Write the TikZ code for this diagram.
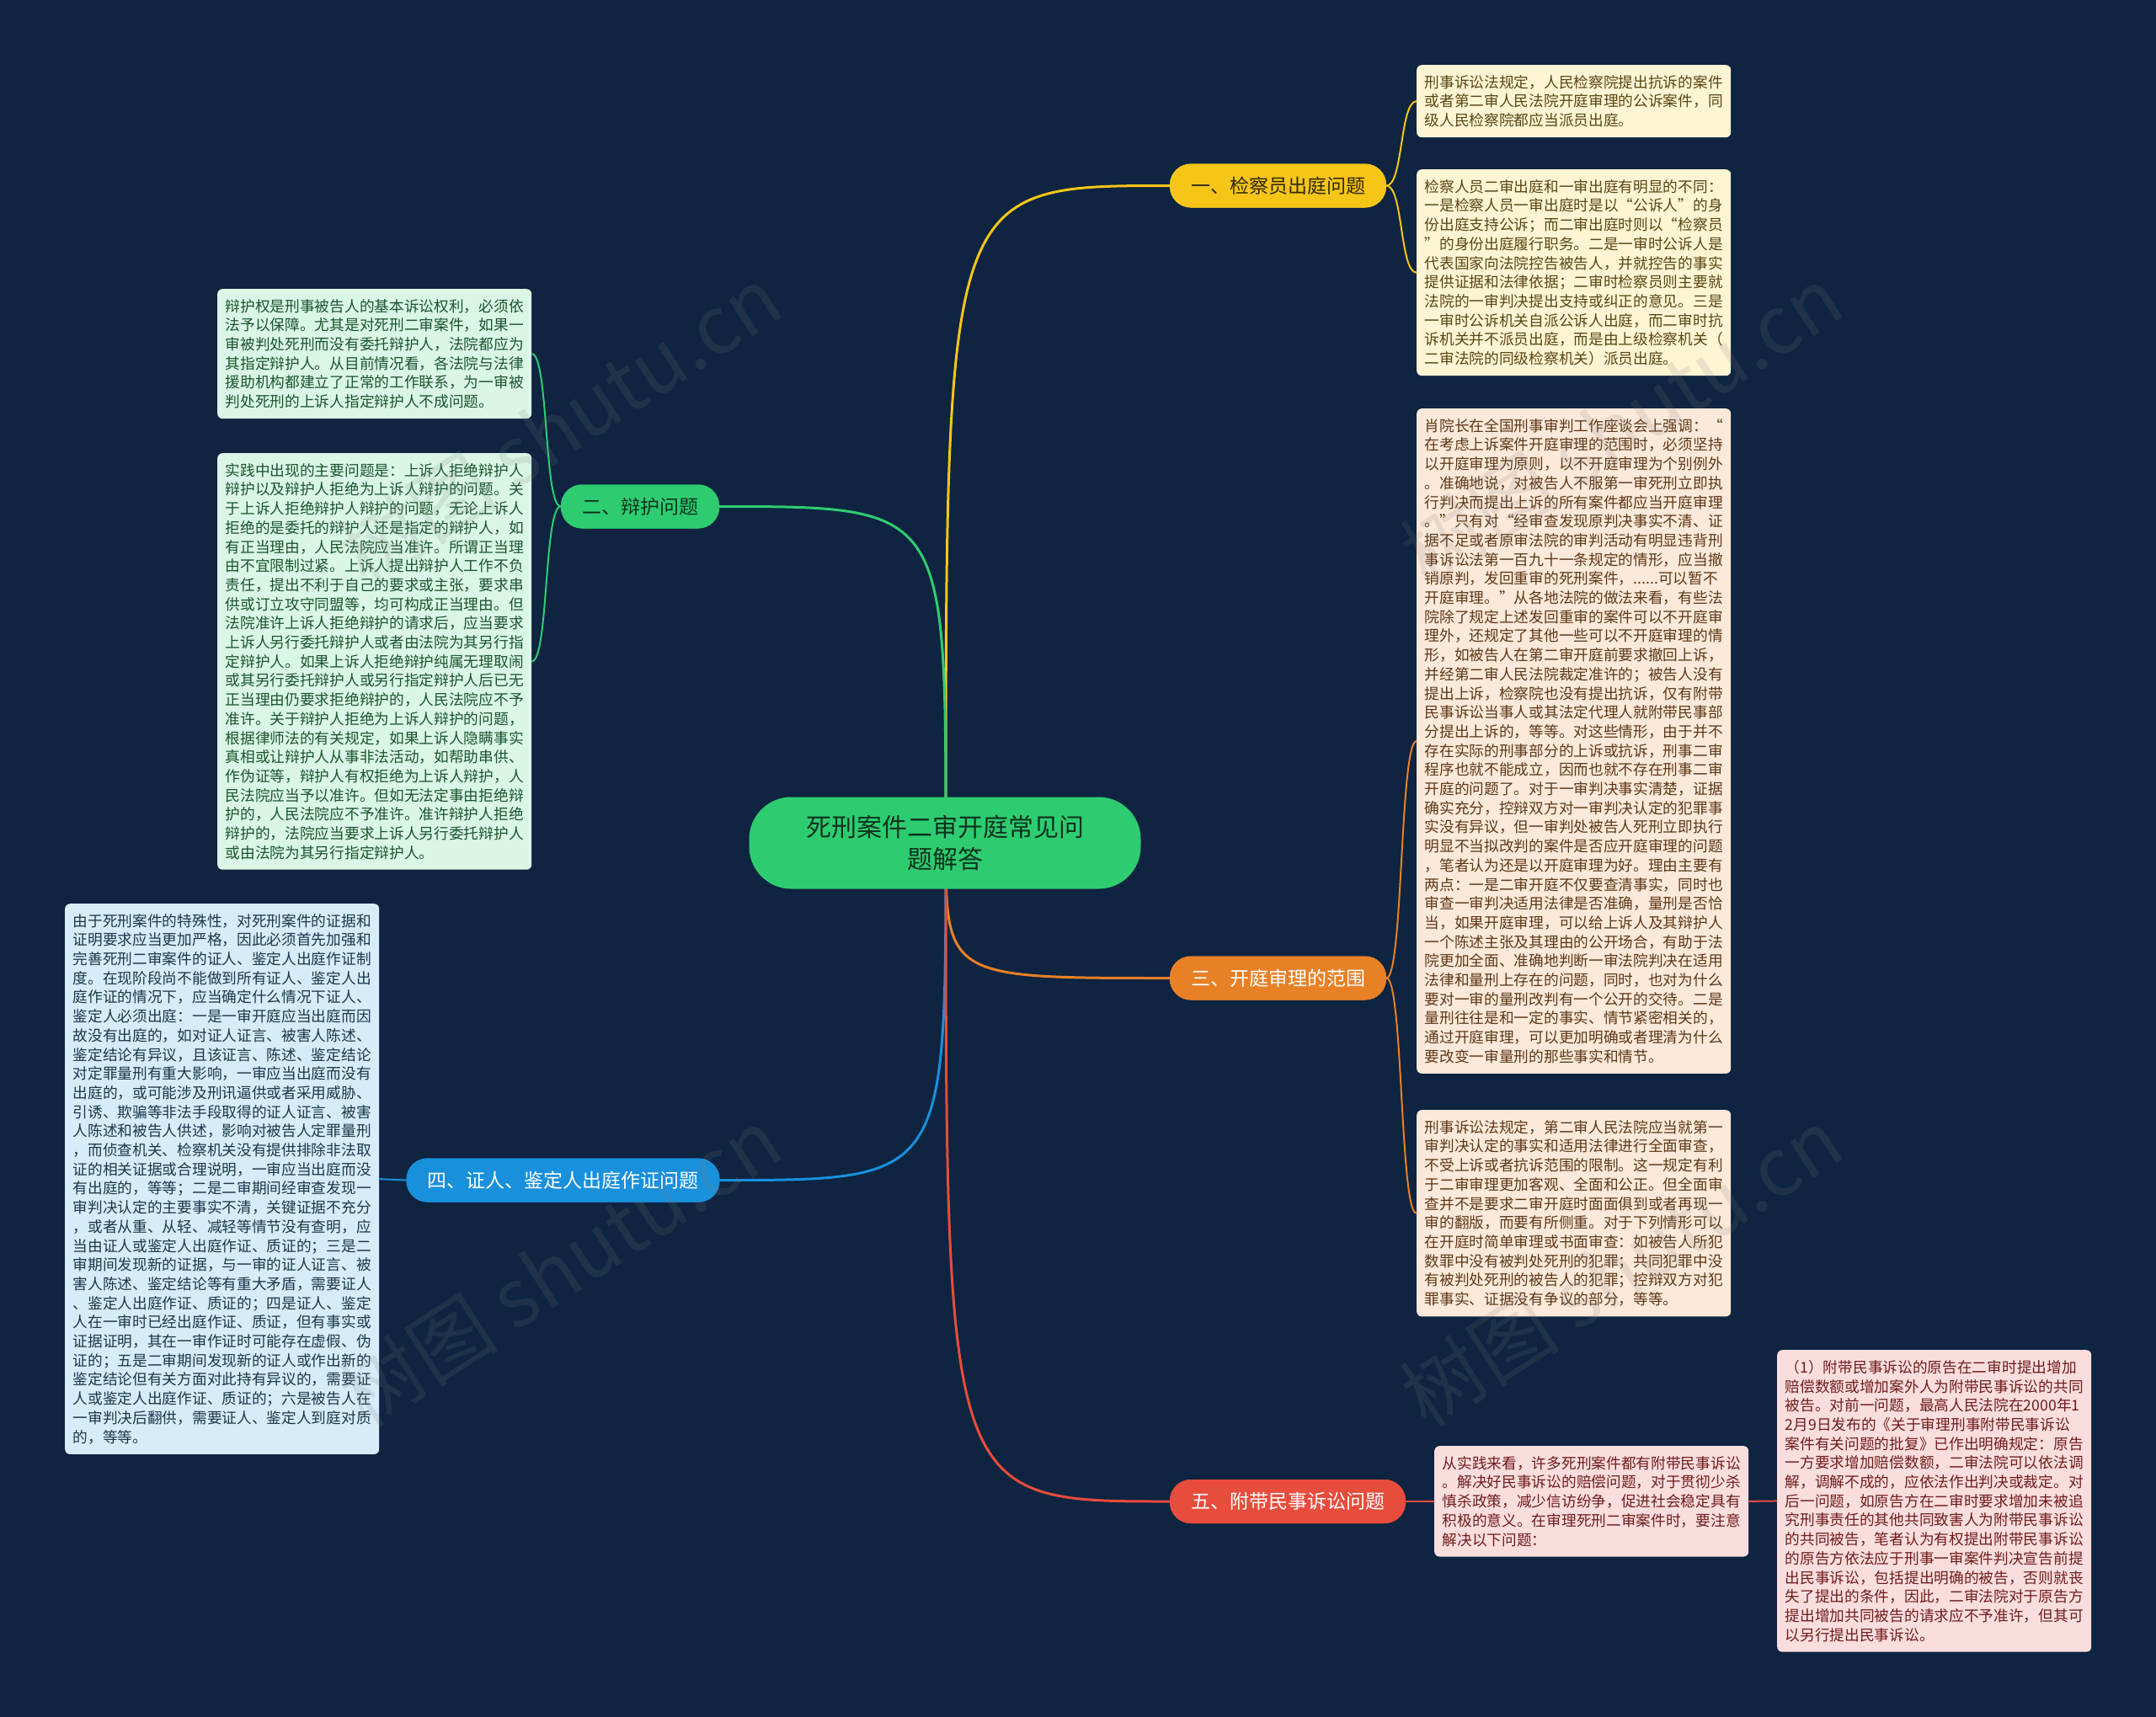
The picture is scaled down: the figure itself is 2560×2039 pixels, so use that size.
\documentclass[tikz,border=0pt]{standalone}
\usepackage{fontspec}
\setmainfont{Noto Sans CJK SC}
\definecolor{bg}{RGB}{14,36,64}
\definecolor{cyel}{RGB}{245,197,24}
\definecolor{cgrn}{RGB}{46,204,113}
\definecolor{corg}{RGB}{232,128,38}
\definecolor{cblu}{RGB}{24,144,220}
\definecolor{cred}{RGB}{231,76,60}
\definecolor{fyel}{RGB}{254,245,212}
\definecolor{fgrn}{RGB}{218,246,230}
\definecolor{forg}{RGB}{252,233,218}
\definecolor{fblu}{RGB}{214,236,249}
\definecolor{fred}{RGB}{250,222,222}
\definecolor{tyel}{RGB}{88,70,20}
\definecolor{tgrn}{RGB}{28,84,48}
\definecolor{torg}{RGB}{92,56,24}
\definecolor{tblu}{RGB}{28,56,74}
\definecolor{tred}{RGB}{112,28,28}
\tikzset{
  centre/.style={fill=cgrn, rounded corners=50pt, minimum width=465pt, minimum height=109pt, align=center, text=black!75!cgrn, font=\fontsize{30}{39}\selectfont},
  branch/.style={rounded corners=25pt, minimum height=52pt, inner xsep=25pt, inner ysep=0pt, font=\fontsize{23}{28}\selectfont},
  leaf/.style={anchor=north west, text width=354pt, align=left, inner xsep=9.5pt, inner ysep=12pt, rounded corners=6pt, font=\fontsize{17.7}{22.7}\selectfont},
  trunk/.style={line width=3pt},
  twig/.style={line width=2pt},
  wmark/.style={rotate=33, text=gray, text opacity=0.16, font=\fontsize{95}{105}\selectfont}
}
\begin{document}
\begin{tikzpicture}[x=1pt,y=-1pt]
\fill[bg] (0,0) rectangle (2560,2039);
\useasboundingbox (0,0) rectangle (2560,2039);
\coordinate (c0) at (1123,1001);
% branch nodes
\node[branch, fill=cyel, text=black!80!cyel] (b1) at (1517.5,220.5) {一、检察员出庭问题};
\node[branch, fill=cgrn, text=black!75!cgrn] (b2) at (760,601.5) {二、辩护问题};
\node[branch, fill=corg, text=white] (b3) at (1517.5,1161.5) {三、开庭审理的范围};
\node[branch, fill=cblu, text=white] (b4) at (668.5,1401.5) {四、证人、鉴定人出庭作证问题};
\node[branch, fill=cred, text=white] (b5) at (1529,1783) {五、附带民事诉讼问题};
% trunk connectors
\draw[trunk, cyel] (c0) .. controls (c0 |- b1.west) .. (b1.west);
\draw[trunk, cgrn] (c0) .. controls (c0 |- b2.east) .. (b2.east);
\draw[trunk, corg] (c0) .. controls (c0 |- b3.west) .. (b3.west);
\draw[trunk, cblu] (c0) .. controls (c0 |- b4.east) .. (b4.east);
\draw[trunk, cred] (c0) .. controls (c0 |- b5.west) .. (b5.west);
\node[centre] (root) at (1122,1001) {死刑案件二审开庭常见问\\题解答};
% redraw branches on top of curves
\node[branch, fill=cyel, text=black!80!cyel] at (b1) {一、检察员出庭问题};
\node[branch, fill=cgrn, text=black!75!cgrn] at (b2) {二、辩护问题};
\node[branch, fill=corg, text=white] at (b3) {三、开庭审理的范围};
\node[branch, fill=cblu, text=white] at (b4) {四、证人、鉴定人出庭作证问题};
\node[branch, fill=cred, text=white] at (b5) {五、附带民事诉讼问题};
% leaves
\node[leaf, fill=fyel, text=tyel] (l1a) at (1682,77) {刑事诉讼法规定，人民检察院提出抗诉的案件\\
或者第二审人民法院开庭审理的公诉案件，同\\
级人民检察院都应当派员出庭。};
\node[leaf, fill=fyel, text=tyel] (l1b) at (1682,201) {检察人员二审出庭和一审出庭有明显的不同：\\
一是检察人员一审出庭时是以“公诉人”的身\\
份出庭支持公诉；而二审出庭时则以“检察员\\
”的身份出庭履行职务。二是一审时公诉人是\\
代表国家向法院控告被告人，并就控告的事实\\
提供证据和法律依据；二审时检察员则主要就\\
法院的一审判决提出支持或纠正的意见。三是\\
一审时公诉机关自派公诉人出庭，而二审时抗\\
诉机关并不派员出庭，而是由上级检察机关（\\
二审法院的同级检察机关）派员出庭。};
\node[leaf, fill=fgrn, text=tgrn] (l2a) at (258,343) {辩护权是刑事被告人的基本诉讼权利，必须依\\
法予以保障。尤其是对死刑二审案件，如果一\\
审被判处死刑而没有委托辩护人，法院都应为\\
其指定辩护人。从目前情况看，各法院与法律\\
援助机构都建立了正常的工作联系，为一审被\\
判处死刑的上诉人指定辩护人不成问题。};
\node[leaf, fill=fgrn, text=tgrn] (l2b) at (258,538) {实践中出现的主要问题是：上诉人拒绝辩护人\\
辩护以及辩护人拒绝为上诉人辩护的问题。关\\
于上诉人拒绝辩护人辩护的问题，无论上诉人\\
拒绝的是委托的辩护人还是指定的辩护人，如\\
有正当理由，人民法院应当准许。所谓正当理\\
由不宜限制过紧。上诉人提出辩护人工作不负\\
责任，提出不利于自己的要求或主张，要求串\\
供或订立攻守同盟等，均可构成正当理由。但\\
法院准许上诉人拒绝辩护的请求后，应当要求\\
上诉人另行委托辩护人或者由法院为其另行指\\
定辩护人。如果上诉人拒绝辩护纯属无理取闹\\
或其另行委托辩护人或另行指定辩护人后已无\\
正当理由仍要求拒绝辩护的，人民法院应不予\\
准许。关于辩护人拒绝为上诉人辩护的问题，\\
根据律师法的有关规定，如果上诉人隐瞒事实\\
真相或让辩护人从事非法活动，如帮助串供、\\
作伪证等，辩护人有权拒绝为上诉人辩护，人\\
民法院应当予以准许。但如无法定事由拒绝辩\\
护的，人民法院应不予准许。准许辩护人拒绝\\
辩护的，法院应当要求上诉人另行委托辩护人\\
或由法院为其另行指定辩护人。};
\node[leaf, fill=forg, text=torg] (l3a) at (1682,485) {肖院长在全国刑事审判工作座谈会上强调：“\\
在考虑上诉案件开庭审理的范围时，必须坚持\\
以开庭审理为原则，以不开庭审理为个别例外\\
。准确地说，对被告人不服第一审死刑立即执\\
行判决而提出上诉的所有案件都应当开庭审理\\
。”只有对“经审查发现原判决事实不清、证\\
据不足或者原审法院的审判活动有明显违背刑\\
事诉讼法第一百九十一条规定的情形，应当撤\\
销原判，发回重审的死刑案件，......可以暂不\\
开庭审理。”从各地法院的做法来看，有些法\\
院除了规定上述发回重审的案件可以不开庭审\\
理外，还规定了其他一些可以不开庭审理的情\\
形，如被告人在第二审开庭前要求撤回上诉，\\
并经第二审人民法院裁定准许的；被告人没有\\
提出上诉，检察院也没有提出抗诉，仅有附带\\
民事诉讼当事人或其法定代理人就附带民事部\\
分提出上诉的，等等。对这些情形，由于并不\\
存在实际的刑事部分的上诉或抗诉，刑事二审\\
程序也就不能成立，因而也就不存在刑事二审\\
开庭的问题了。对于一审判决事实清楚，证据\\
确实充分，控辩双方对一审判决认定的犯罪事\\
实没有异议，但一审判处被告人死刑立即执行\\
明显不当拟改判的案件是否应开庭审理的问题\\
，笔者认为还是以开庭审理为好。理由主要有\\
两点：一是二审开庭不仅要查清事实，同时也\\
审查一审判决适用法律是否准确，量刑是否恰\\
当，如果开庭审理，可以给上诉人及其辩护人\\
一个陈述主张及其理由的公开场合，有助于法\\
院更加全面、准确地判断一审法院判决在适用\\
法律和量刑上存在的问题，同时，也对为什么\\
要对一审的量刑改判有一个公开的交待。二是\\
量刑往往是和一定的事实、情节紧密相关的，\\
通过开庭审理，可以更加明确或者理清为什么\\
要改变一审量刑的那些事实和情节。};
\node[leaf, fill=forg, text=torg] (l3b) at (1682,1318) {刑事诉讼法规定，第二审人民法院应当就第一\\
审判决认定的事实和适用法律进行全面审查，\\
不受上诉或者抗诉范围的限制。这一规定有利\\
于二审审理更加客观、全面和公正。但全面审\\
查并不是要求二审开庭时面面俱到或者再现一\\
审的翻版，而要有所侧重。对于下列情形可以\\
在开庭时简单审理或书面审查：如被告人所犯\\
数罪中没有被判处死刑的犯罪；共同犯罪中没\\
有被判处死刑的被告人的犯罪；控辩双方对犯\\
罪事实、证据没有争议的部分，等等。};
\node[leaf, fill=fblu, text=tblu] (l4) at (77,1073) {由于死刑案件的特殊性，对死刑案件的证据和\\
证明要求应当更加严格，因此必须首先加强和\\
完善死刑二审案件的证人、鉴定人出庭作证制\\
度。在现阶段尚不能做到所有证人、鉴定人出\\
庭作证的情况下，应当确定什么情况下证人、\\
鉴定人必须出庭：一是一审开庭应当出庭而因\\
故没有出庭的，如对证人证言、被害人陈述、\\
鉴定结论有异议，且该证言、陈述、鉴定结论\\
对定罪量刑有重大影响，一审应当出庭而没有\\
出庭的，或可能涉及刑讯逼供或者采用威胁、\\
引诱、欺骗等非法手段取得的证人证言、被害\\
人陈述和被告人供述，影响对被告人定罪量刑\\
，而侦查机关、检察机关没有提供排除非法取\\
证的相关证据或合理说明，一审应当出庭而没\\
有出庭的，等等；二是二审期间经审查发现一\\
审判决认定的主要事实不清，关键证据不充分\\
，或者从重、从轻、减轻等情节没有查明，应\\
当由证人或鉴定人出庭作证、质证的；三是二\\
审期间发现新的证据，与一审的证人证言、被\\
害人陈述、鉴定结论等有重大矛盾，需要证人\\
、鉴定人出庭作证、质证的；四是证人、鉴定\\
人在一审时已经出庭作证、质证，但有事实或\\
证据证明，其在一审作证时可能存在虚假、伪\\
证的；五是二审期间发现新的证人或作出新的\\
鉴定结论但有关方面对此持有异议的，需要证\\
人或鉴定人出庭作证、质证的；六是被告人在\\
一审判决后翻供，需要证人、鉴定人到庭对质\\
的，等等。};
\node[leaf, fill=fred, text=tred] (l5a) at (1703,1717) {从实践来看，许多死刑案件都有附带民事诉讼\\
。解决好民事诉讼的赔偿问题，对于贯彻少杀\\
慎杀政策，减少信访纷争，促进社会稳定具有\\
积极的意义。在审理死刑二审案件时，要注意\\
解决以下问题：};
\node[leaf, fill=fred, text=tred] (l5b) at (2110,1603) {（1）附带民事诉讼的原告在二审时提出增加\\
赔偿数额或增加案外人为附带民事诉讼的共同\\
被告。对前一问题，最高人民法院在2000年1\\
2月9日发布的《关于审理刑事附带民事诉讼\\
案件有关问题的批复》已作出明确规定：原告\\
一方要求增加赔偿数额，二审法院可以依法调\\
解，调解不成的，应依法作出判决或裁定。对\\
后一问题，如原告方在二审时要求增加未被追\\
究刑事责任的其他共同致害人为附带民事诉讼\\
的共同被告，笔者认为有权提出附带民事诉讼\\
的原告方依法应于刑事一审案件判决宣告前提\\
出民事诉讼，包括提出明确的被告，否则就丧\\
失了提出的条件，因此，二审法院对于原告方\\
提出增加共同被告的请求应不予准许，但其可\\
以另行提出民事诉讼。};
% twig connectors
\draw[twig, cyel] (b1.east) .. controls +(20,0) and +(-20,0) .. (l1a.west);
\draw[twig, cyel] (b1.east) .. controls +(20,0) and +(-20,0) .. (l1b.west);
\draw[twig, cgrn] (b2.west) .. controls +(-20,0) and +(20,0) .. (l2a.east);
\draw[twig, cgrn] (b2.west) .. controls +(-20,0) and +(20,0) .. (l2b.east);
\draw[twig, corg] (b3.east) .. controls +(20,0) and +(-20,0) .. (l3a.west);
\draw[twig, corg] (b3.east) .. controls +(20,0) and +(-20,0) .. (l3b.west);
\draw[twig, cblu] (b4.west) -- (l4.east);
\draw[twig, cred] (b5.east) -- (l5a.west);
\draw[twig, cred] (l5a.east) -- (l5b.west);
% watermarks
\node[wmark] (w1) at (665,505) {树图 shutu.cn};
\node[wmark] (w2) at (1925,505) {树图 shutu.cn};
\node[wmark] (w3) at (665,1505) {树图 shutu.cn};
\node[wmark] (w4) at (1925,1505) {树图 shutu.cn};
\end{tikzpicture}
\end{document}
